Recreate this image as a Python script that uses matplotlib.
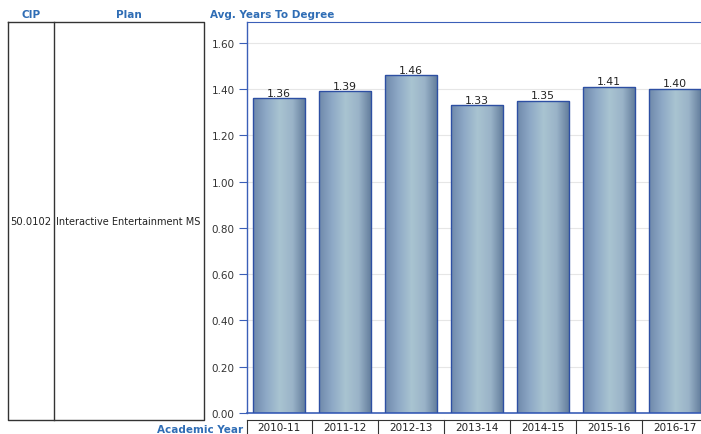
import numpy as np
import matplotlib
matplotlib.use("Agg")
import matplotlib.pyplot as plt
from matplotlib.transforms import blended_transform_factory
from matplotlib.colors import LinearSegmentedColormap

years = ["2010-11", "2011-12", "2012-13", "2013-14", "2014-15", "2015-16", "2016-17"]
avg_years = [1.36, 1.39, 1.46, 1.33, 1.35, 1.41, 1.40]
yticks = [0.0, 0.2, 0.4, 0.6, 0.8, 1.0, 1.2, 1.4, 1.6]
cip = "50.0102"
plan = "Interactive Entertainment MS"

W, H = 701, 435
fig = plt.figure(figsize=(W / 100, H / 100), dpi=100)
plt.rcParams['font.family'] = ['DejaVu Sans']

BLUE = "#2f6db5"
AXBLUE = "#3b5fb8"

# main axes
ax = fig.add_axes([247 / W, (H - 414) / H, (701 - 247) / W, (414 - 23) / H])
x = np.arange(len(years))
bars = ax.bar(x, avg_years, width=0.79, facecolor="none", edgecolor="#2d4fa3", linewidth=1.0, zorder=3)

cmap = LinearSegmentedColormap.from_list(
    "bar", ["#6f89ab", "#8ea9c6", "#a9c4d1", "#9ab3c8", "#5f7a99"])
grad = np.linspace(0, 1, 256).reshape(1, -1)
for b in bars:
    x0, w, h = b.get_x(), b.get_width(), b.get_height()
    im = ax.imshow(grad, cmap=cmap, aspect="auto", extent=[x0, x0 + w, 0, h], zorder=2)
    im.set_clip_path(b)

for xi, v in zip(x, avg_years):
    ax.text(xi, v + 0.003, f"{v:.2f}", ha="center", va="bottom", fontsize=7.8, color="#222222", zorder=4)

ax.set_xlim(-0.485, 6.395)
ax.set_ylim(0, 1.69)
ax.set_yticks(yticks)
ax.set_yticklabels([f"{t:.2f}" for t in yticks], fontsize=7.5, color="#333333")
ax.tick_params(axis="y", length=6, color=AXBLUE, pad=3)
ax.set_xticks([])
ax.grid(axis="y", color="#e6e6e6", linewidth=0.8, zorder=0)
ax.set_axisbelow(True)
ax.spines["right"].set_visible(False)
ax.spines["left"].set_color(AXBLUE)
ax.spines["bottom"].set_color(AXBLUE)
ax.spines["top"].set_color(AXBLUE)
ax.spines["left"].set_linewidth(1.0)
ax.spines["bottom"].set_linewidth(1.2)
ax.spines["top"].set_linewidth(0.8)

# category row below axes
trans = blended_transform_factory(ax.transData, ax.transAxes)
row_top = -(421 - 414) / (414 - 23)
row_bot = -(436 - 414) / (414 - 23)
bounds = [-0.485] + [i + 0.5 for i in range(len(years))]
for bx in bounds:
    ax.plot([bx, bx], [row_top, row_bot], transform=trans, color="#333333", lw=0.8, clip_on=False)
ax.plot([-0.485, 6.395], [row_top, row_top], transform=trans, color="#333333", lw=0.8, clip_on=False)
for xi, lab in zip(x, years):
    ax.text(xi, (row_top + row_bot) / 2, lab, transform=trans, ha="center", va="center",
            fontsize=7.5, color="#222222", clip_on=False)

# overlay for table & headers (pixel coords)
ov = fig.add_axes([0, 0, 1, 1], zorder=-1)
ov.set_xlim(0, W)
ov.set_ylim(H, 0)
ov.axis("off")
ov.plot([8, 204, 204, 8, 8], [23, 23, 421, 421, 23], color="#333333", lw=1.0)
ov.plot([54, 54], [23, 421], color="#333333", lw=1.0)
ov.text(31, 15, "CIP", ha="center", va="center", fontsize=7.5, fontweight="bold", color=BLUE)
ov.text(129, 15, "Plan", ha="center", va="center", fontsize=7.5, fontweight="bold", color=BLUE)
ov.text(210, 15, "Avg. Years To Degree", ha="left", va="center", fontsize=7.5, fontweight="bold", color=BLUE)
ov.text(243, 430, "Academic Year", ha="right", va="center", fontsize=7.5, fontweight="bold", color=BLUE)
ov.text(10, 222, cip, ha="left", va="center", fontsize=7.2, color="#222222")
ov.text(56, 222, plan, ha="left", va="center", fontsize=7.0, color="#222222")

fig.savefig("out.png", dpi=100)
